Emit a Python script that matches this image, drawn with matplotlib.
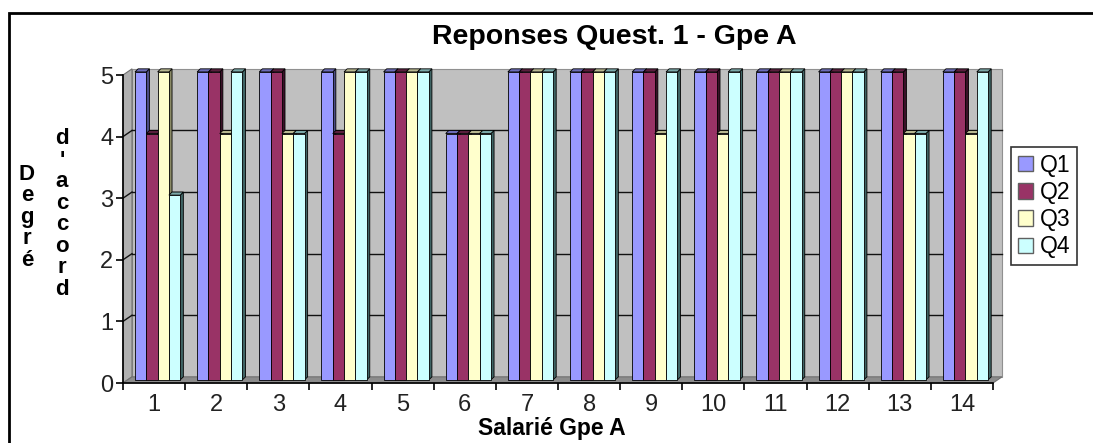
import numpy as np
import matplotlib
matplotlib.use('Agg')
import matplotlib.pyplot as plt
from matplotlib.patches import Polygon, Rectangle, Patch

plt.rcParams['font.family'] = ['Liberation Sans', 'DejaVu Sans']

# answers per employee (1..14) for each question
employees = [str(i) for i in range(1, 15)]
series_names = ['Q1', 'Q2', 'Q3', 'Q4']
q1 = [5, 5, 5, 5, 5, 4, 5, 5, 5, 5, 5, 5, 5, 5]
q2 = [4, 5, 5, 4, 5, 4, 5, 5, 5, 5, 5, 5, 5, 5]
q3 = [5, 4, 4, 5, 5, 4, 5, 5, 4, 4, 5, 5, 4, 4]
q4 = [3, 5, 4, 5, 5, 4, 5, 5, 5, 5, 5, 5, 4, 5]

front_colors = ['#9999FF', '#993366', '#FFFFCC', '#CCFFFF']
side_colors = ['#4c4c85', '#3a1128', '#8a8a66', '#3f6464']
top_colors = ['#6c6cb8', '#5a1f3d', '#b8b890', '#7aa8a8']

W, H = 1093, 443
fig = plt.figure(figsize=(W / 100, H / 100), dpi=100)
ax = fig.add_axes([123 / W, (H - 383) / H, 870 / W, 308 / H])

n = len(employees)
ax.set_xlim(0, n)
ax.set_ylim(0, 5)

# depth of the box (back wall offset) and of the bars
wx, wy = 0.145, 0.10
fx, fy = 0.057, 0.05
sx, sy = 0.05, 0.05
bw = 0.182

# walls and floor
ax.add_patch(Polygon([(wx, wy), (n + wx, wy), (n + wx, 5 + wy), (wx, 5 + wy)],
                     closed=True, fc='#c0c0c0', ec='#909090', lw=0.8,
                     zorder=0, clip_on=False))
ax.add_patch(Polygon([(0, 0), (wx, wy), (wx, 5 + wy), (0, 5)], closed=True,
                     fc='#b0b0b0', ec='#707070', lw=0.8, zorder=0.5, clip_on=False))
ax.add_patch(Polygon([(0, 0), (n, 0), (n + wx, wy), (wx, wy)], closed=True,
                     fc='#8c8c8c', ec='#707070', lw=0.8, zorder=0.5, clip_on=False))
for g in range(1, 5):
    ax.plot([wx, n + wx], [g + wy, g + wy], color='#111111', lw=1.0,
            zorder=1, clip_on=False)
    ax.plot([0, wx], [g, g + wy], color='#111111', lw=1.0, zorder=1, clip_on=False)

# 3D-looking columns
data = [q1, q2, q3, q4]
for i in range(n):
    x0 = i + 0.5 - 2 * bw + fx
    for k, vals in enumerate(data):
        v = vals[i]
        x = x0 + k * bw
        z = 3 + i * 0.1 + k * 0.01
        ax.add_patch(Polygon([(x + bw, fy), (x + bw + sx, fy + sy),
                              (x + bw + sx, v + fy + sy), (x + bw, v + fy)],
                             closed=True, fc=side_colors[k], ec='black', lw=0.6,
                             zorder=z, clip_on=False))
        ax.add_patch(Polygon([(x, v + fy), (x + sx, v + fy + sy),
                              (x + bw + sx, v + fy + sy), (x + bw, v + fy)],
                             closed=True, fc=top_colors[k], ec='black', lw=0.6,
                             zorder=z, clip_on=False))
        ax.add_patch(Rectangle((x, fy), bw, v, fc=front_colors[k], ec='black',
                               lw=0.6, zorder=z + 0.005, clip_on=False))

# axes
for s in ['top', 'right']:
    ax.spines[s].set_visible(False)
for s in ['left', 'bottom']:
    ax.spines[s].set_color('black')
    ax.spines[s].set_linewidth(1.2)
    ax.spines[s].set_zorder(2)
ax.set_facecolor('none')

ax.set_yticks(range(0, 6))
ax.tick_params(axis='y', length=5, width=1.2, pad=2, labelsize=17,
               labelcolor='#222222')
ax.set_xticks(range(0, n + 1))
ax.set_xticklabels([])
ax.set_xticks(np.arange(n) + 0.5, minor=True)
ax.set_xticklabels(employees, minor=True)
ax.tick_params(axis='x', which='major', length=5, width=1.2)
ax.tick_params(axis='x', which='minor', length=0, pad=8, labelsize=17,
               labelcolor='#222222')

fig.text(614 / W, (H - 37) / H, 'Reponses Quest. 1 - Gpe A', ha='center',
         va='center', fontsize=20.5, fontweight='bold')
fig.text(552 / W, 3 / H, 'Salarié Gpe A', ha='center', va='bottom',
         fontsize=16.5, fontweight='bold')

# vertical axis title, stacked letters in two columns
for col_x, col_cy, word in [(27, 217, 'Degré'), (62, 214, "d'accord")]:
    step = 21.5
    top = col_cy - step * (len(word) - 1) / 2
    for j, ch in enumerate(word):
        fig.text(col_x / W, (H - (top + j * step)) / H, ch, ha='center',
                 va='center', fontsize=16, fontweight='bold')

handles = [Patch(fc=c, ec='#606060', lw=1) for c in front_colors]
leg = fig.legend(handles, series_names, loc='upper left',
                 bbox_to_anchor=(1011 / W, (H - 147) / H), frameon=True,
                 fancybox=False, fontsize=16.5, handlelength=0.65,
                 handleheight=0.65, handletextpad=0.3, labelspacing=0.18,
                 borderpad=0.3, borderaxespad=0)
leg.get_frame().set_edgecolor('black')
leg.get_frame().set_linewidth(1.2)

# outer chart border
fig.add_artist(Rectangle((9 / W, -0.1), 1.2, (H - 13) / H + 0.1,
                         transform=fig.transFigure, fill=False, ec='black', lw=2))

fig.savefig('out.png', dpi=100)
